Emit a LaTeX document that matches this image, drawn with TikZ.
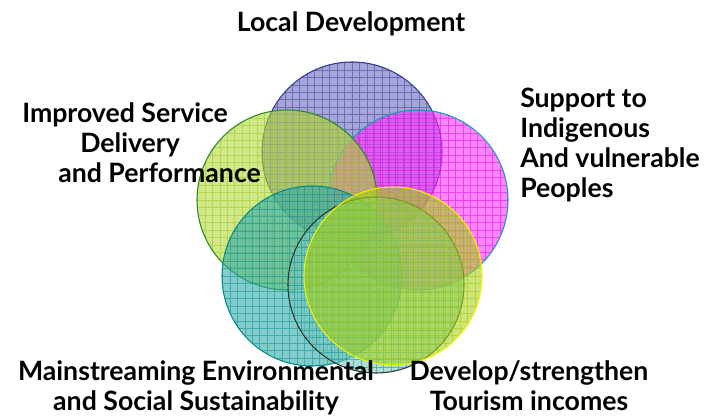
\documentclass[tikz,border=0pt]{standalone}
\usepackage{fontspec}
\setmainfont{Lato}
\usepackage{tikz}
\definecolor{blueF}{RGB}{105,105,190}
\definecolor{blueG}{RGB}{55,55,150}
\definecolor{magF}{RGB}{255,50,255}
\definecolor{magG}{RGB}{225,0,225}
\definecolor{magO}{RGB}{20,160,175}
\definecolor{limeF}{RGB}{180,215,60}
\definecolor{limeG}{RGB}{150,200,20}
\definecolor{limeO}{RGB}{40,140,30}
\definecolor{tealF}{RGB}{50,170,170}
\definecolor{tealG}{RGB}{0,140,140}
\definecolor{darkF}{RGB}{120,200,190}
\definecolor{darkO}{RGB}{45,55,40}
\definecolor{yelF}{RGB}{170,210,30}
\definecolor{yelG}{RGB}{150,200,10}
\definecolor{yelO}{RGB}{245,240,0}
\tikzset{%
    ring/.style={circle,inner sep=0pt,minimum size=135pt,line width=0.8pt,fill opacity=0.6},
    mesh/.style={path picture={\draw[#1,line width=0.4pt,draw opacity=0.5]
        (path picture bounding box.south west) grid[step=5.6pt] (path picture bounding box.north east);}},
    lbl/.style={inner sep=0pt,font=\bfseries\fontsize{20}{22.5}\selectfont}
}

\begin{document}
\begin{tikzpicture}[x=0.75pt,y=-0.75pt]
    \useasboundingbox (0,0) rectangle (713,416);

    \node[ring,draw=blueG,fill=blueF,mesh=blueG] (c1) at (352,152){};
    \node[ring,draw=magO,fill=magF,mesh=magG] (c2) at (418,200){};
    \node[ring,draw=limeO,fill=limeF,mesh=limeG] (c3) at (287,200){};
    \node[ring,draw=tealG,fill=tealF,mesh=tealG] (c4) at (312,276){};
    \node[ring,draw=darkO,fill=darkF,mesh=tealG,minimum size=132pt] (c5) at (376,285){};
    \node[ring,draw=yelO,fill=yelF,mesh=yelG,minimum size=133.5pt] (c6) at (393,276){};

    \node[lbl,anchor=base] (l1) at (351,32) {Local Development};
    \node[lbl,align=left,anchor=north west] (l2) at (22,102)
        {Improved Service\\\hspace*{43.5pt}Delivery\\\hspace*{27pt}and Performance};
    \node[lbl,align=left,anchor=north west] (l3) at (520,88)
        {Support to\\Indigenous\\And vulnerable\\Peoples};
    \node[lbl,align=center,anchor=north] (l4) at (196,360)
        {Mainstreaming Environmental\\and Social Sustainability};
    \node[lbl,align=center,anchor=north] (l5) at (529,360)
        {Develop/strengthen\\Tourism incomes};
\end{tikzpicture}
\end{document}
